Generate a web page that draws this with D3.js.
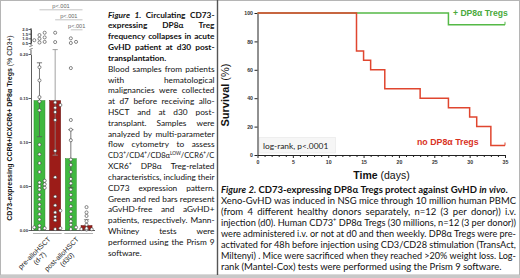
<!DOCTYPE html>
<html><head><meta charset="utf-8">
<script src="https://cdn.jsdelivr.net/npm/d3@7"></script>
<style>body{margin:0;background:#fff}svg{display:block}</style>
</head><body><svg id="c" width="520" height="278"></svg>
<script>
// ================= DATA =================
// Figure 1 – bar chart
const barKeys = ["preFree", "preGvhd", "postFree", "postGvhd"];
const barStatus = ["aGvHD-free", "aGvHD+", "aGvHD-free", "aGvHD+"];
const barGroups = ["pre-alloHSCT", "pre-alloHSCT", "post-alloHSCT", "post-alloHSCT"];
const groupNames = ["pre-alloHSCT", "post-alloHSCT"];
const groupSub = ["(d-7)", "(d30)"];
const barMeans = [0.147, 0.147, 0.081, 0.005];
const barErrHigh = [0.190, 0.205, 0.114, 0.012];
const barErrLow = [0.106, 0.085, 0.048, 0.000];
const ptsPreFree = [1.6, 1.35, 1.1, 0.95, 0.8, 0.62, 0.55, 0.185, 0.170, 0.151, 0.146, 0.136, 0.097, 0.086,
  0.076, 0.066, 0.056, 0.054, 0.052, 0.050, 0.048, 0.046, 0.040, 0.035, 0.029, 0.024, 0.018, 0.012, 0.005,
  0.003, 0.002, 0.001];
const ptsPreGvhd = [1.6, 0.6, 0.145, 0.142, 0.139, 0.134, 0.125, 0.090, 0.060, 0.038, 0.028, 0.022, 0.020,
  0.015, 0.011, 0.002, 0.001];
const ptsPostFree = [1.0, 0.62, 0.5, 0.184, 0.125, 0.114, 0.102, 0.080, 0.074, 0.066, 0.058, 0.053, 0.046,
  0.040, 0.034, 0.027, 0.021, 0.015, 0.010, 0.006, 0.003, 0.001];
const ptsPostGvhd = [0.026, 0.020, 0.016, 0.010, 0.006, 0.002, 0.001, 0.0008, 0.0005];
const barPoints = [ptsPreFree, ptsPreGvhd, ptsPostFree, ptsPostGvhd];
const lowTicks = [0, 0.05, 0.10, 0.15, 0.20];
const highTicks = [0.5, 1.0, 1.5, 2.0];
const pComparisons = [[0, 3], [1, 3], [2, 3]];
const pLabels = ["p<.001", "p<.001", "p<.001"];

// Figure 2 – Kaplan-Meier
const kmDaysTreg = [0, 27, 35];
const kmSurvTreg = [100, 91.7, 91.7];
const kmDaysNo = [0, 14, 15, 16, 18, 23, 27, 30, 31, 33, 35];
const kmSurvNo = [100, 73.3, 66.7, 60, 46.7, 40, 33.3, 26.7, 20, 6.7, 6.7];
const kmYTicks = [0, 20, 40, 60, 80, 100];
const kmXLabels = [0, 5, 10, 15, 20, 25, 30, 35];

// Texts
const fig1Lines = [
  {s: "*Figure 1.* Circulating CD73-", b: true, j: true},
  {s: "expressing DP8α Treg", b: true, j: true},
  {s: "frequency collapses in acute", b: true, j: true},
  {s: "GvHD patient at d30 post-", b: true, j: true},
  {s: "transplantation.", b: true},
  {s: "Blood samples from patients", j: true},
  {s: "with hematological", j: true},
  {s: "malignancies were collected", j: true},
  {s: "at d7 before receiving allo-", j: true},
  {s: "HSCT and at d30 post-", j: true},
  {s: "transplant. Samples were", j: true},
  {s: "analyzed by multi-parameter", j: true},
  {s: "flow cytometry to assess", j: true},
  {s: "CD3^+^/CD4^+^/CD8α^LOW^/CCR6^+^/C", j: true},
  {s: "XCR6^+^ DP8α Treg-related", j: true},
  {s: "characteristics, including their", j: true},
  {s: "CD73 expression pattern.", j: true},
  {s: "Green and red bars represent", j: true},
  {s: "aGvHD-free and aGvHD+", j: true},
  {s: "patients, respectively. Mann-", j: true},
  {s: "Whitney tests were", j: true},
  {s: "performed using the Prism 9", j: true},
  {s: "software."}
];
const fig2Lines = [
  {s: "*Figure 2.* CD73-expressing DP8α Tregs protect against GvHD *in vivo*.", b: true},
  {s: "Xeno-GvHD was induced in NSG mice through 10 million human PBMC", j: true},
  {s: "(from 4 different healthy donors separately, n=12 (3 per donor)) i.v.", j: true},
  {s: "injection (d0). Human CD73^+^ DP8α Tregs (30 millions, n=12 (3 per donor))", j: true},
  {s: "were administered i.v. or not at d0 and then weekly. DP8α Tregs were pre-", j: true},
  {s: "activated for 48h before injection using CD3/CD28 stimulation (TransAct,", j: true},
  {s: "Miltenyi) . Mice were sacrificed when they reached >20% weight loss. Log-", j: true},
  {s: "rank (Mantel-Cox) tests were performed using the Prism 9 software."}
];

// ================= DRAW =================
const svg = d3.select("#c");
const SANS = "Lato, 'Open Sans', sans-serif";
const ARIAL = "'Liberation Sans', Arial, sans-serif";

// frame
svg.append("rect").attr("x", 0.5).attr("y", 0.5).attr("width", 519).attr("height", 274.5)
  .attr("fill", "none").attr("stroke", "#b5b5b5");
svg.append("rect").attr("x", 0).attr("y", 275).attr("width", 520).attr("height", 3).attr("fill", "#c8c8c8");
svg.append("line").attr("x1", 217.5).attr("x2", 217.5).attr("y1", 0).attr("y2", 275)
  .attr("stroke", "#555").attr("stroke-width", 1.4);

// ---------- text blocks ----------
function parseLine(s) {
  const words = []; let cur = [], it = false, sup = false, buf = "";
  const flush = () => { if (buf) { cur.push({t: buf, i: it, sup: sup}); buf = ""; } };
  for (const ch of s) {
    if (ch === "*") { flush(); it = !it; }
    else if (ch === "^") { flush(); sup = !sup; }
    else if (ch === " ") { flush(); if (cur.length) words.push(cur); cur = []; }
    else buf += ch;
  }
  flush(); if (cur.length) words.push(cur);
  return words;
}
function renderBlock(g, lines, x0, width, y0, lh, fs) {
  const spaceW = fs * 0.24;
  lines.forEach((ln, i) => {
    const y = y0 + i * lh;
    const lg = g.append("g");
    const ws = parseLine(ln.s).map(w => {
      const t = lg.append("text").attr("y", y).attr("font-size", fs)
        .attr("font-weight", ln.b ? 700 : 400).attr("fill", "#111");
      let prevSup = false;
      w.forEach(seg => {
        const ts = t.append("tspan").text(seg.t);
        if (seg.i) ts.attr("font-style", "italic");
        if (seg.sup) { ts.attr("font-size", fs * 0.62); if (!prevSup) ts.attr("dy", -fs * 0.36); }
        else if (prevSup) ts.attr("dy", fs * 0.36);
        prevSup = seg.sup;
      });
      return {t, w: t.node().getComputedTextLength()};
    });
    const n = ws.length, sum = d3.sum(ws, d => d.w);
    const natural = sum + spaceW * (n - 1);
    let gap = spaceW, scale = 1;
    if (natural > width) scale = width / natural;
    else if (ln.j && n > 1) gap = (width - sum) / (n - 1);
    let x = x0;
    ws.forEach(d => { d.t.attr("x", x); x += d.w + gap; });
    if (scale < 1) lg.attr("transform", `translate(${x0},0) scale(${scale},1) translate(${-x0},0)`);
  });
}
const t1 = svg.append("g").attr("font-family", SANS);
renderBlock(t1, fig1Lines, 108, 106.5, 17.6, 10.82, 8.3);
const t2 = svg.append("g").attr("font-family", SANS);
renderBlock(t2, fig2Lines, 221, 295, 192.6, 11.1, 9.5);

// ---------- Figure 1 chart ----------
const L = svg.append("g").attr("font-family", ARIAL);
const xBar = d3.scaleBand().domain(barKeys).range([31, 95]).paddingInner(0.3).paddingOuter(0.19);
const yLow = d3.scaleLinear().domain([0, 0.20]).range([230, 54]);
const yHigh = d3.scaleLinear().domain([0.5, 2.0]).range([43, 29]);
const yv = v => v <= 0.21 ? yLow(v) : yHigh(v);
const fillOf = d3.scaleOrdinal().domain(["aGvHD-free", "aGvHD+"]).range(["#3fb83f", "#9c1c18"]);
const edgeOf = d3.scaleOrdinal().domain(["aGvHD-free", "aGvHD+"]).range(["#2a8a2a", "#5e0f0c"]);
const bw = xBar.bandwidth();

// axes
const axLow = L.append("g").attr("transform", "translate(31,0)")
  .call(d3.axisLeft(yLow).tickValues(lowTicks).tickFormat(d3.format(".2f")).tickSize(2.5).tickSizeOuter(0));
const axHigh = L.append("g").attr("transform", "translate(31,0)")
  .call(d3.axisLeft(yHigh).tickValues(highTicks).tickFormat(d3.format(".1f")).tickSize(2.5).tickSizeOuter(0));
[axLow, axHigh].forEach(a => {
  a.selectAll("text").attr("font-size", 4.2).attr("font-weight", 700).attr("fill", "#333").attr("x", -3);
  a.selectAll("line,path").attr("stroke", "#333").attr("stroke-width", 0.8);
});
L.append("line").attr("x1", 31).attr("x2", 31).attr("y1", yLow(0.20)).attr("y2", 50)
  .attr("stroke", "#333").attr("stroke-width", 0.8);
L.append("path").attr("d", "M29.5,50 q1,-1.5 1.5,-1 q0.5,0.5 1.5,-1 M29.5,47 q1,-1.5 1.5,-1 q0.5,0.5 1.5,-1")
  .attr("fill", "none").attr("stroke", "#333").attr("stroke-width", 0.7);
L.append("line").attr("x1", 31).attr("x2", 31).attr("y1", 45).attr("y2", 28)
  .attr("stroke", "#333").attr("stroke-width", 0.8);

// x axis
L.append("line").attr("x1", 31).attr("x2", 95).attr("y1", 230.5).attr("y2", 230.5)
  .attr("stroke", "#333").attr("stroke-width", 0.8);
groupNames.forEach((gname, gi) => {
  const ks = barKeys.filter((k, i) => barGroups[i] === gname);
  const x0 = xBar(ks[0]) - 1, x1 = xBar(ks[ks.length - 1]) + bw + 1;
  L.append("line").attr("x1", x0).attr("x2", x1).attr("y1", 233.5).attr("y2", 233.5)
    .attr("stroke", "#b0b0b0").attr("stroke-width", 1);
  const gc = (x0 + x1) / 2;
  const lg = L.append("g").attr("transform", `translate(${gc - gi * 3},${236}) rotate(-45)`);
  const a = lg.append("text").attr("x", 0).attr("y", 5.2).attr("text-anchor", "end")
    .attr("font-size", 7).attr("fill", "#222").text(gname);
  const w1 = a.node().getComputedTextLength();
  lg.append("text").attr("x", -w1 / 2).attr("y", 12.8).attr("text-anchor", "middle")
    .attr("font-size", 7).attr("fill", "#222").text(groupSub[gi]);
});

// bars
barKeys.forEach((k, i) => {
  L.append("rect").attr("x", xBar(k)).attr("y", yv(barMeans[i])).attr("width", bw)
    .attr("height", yLow(0) - yv(barMeans[i]))
    .attr("fill", fillOf(barStatus[i])).attr("stroke", edgeOf(barStatus[i])).attr("stroke-width", 0.5);
});
// error bars
barKeys.forEach((k, i) => {
  const cx = xBar(k) + bw / 2;
  const yh = yv(barErrHigh[i]), yl = yv(barErrLow[i]);
  const col = barStatus[i] === "aGvHD+" ? "#8a8a8a" : "#555";
  L.append("line").attr("x1", cx).attr("x2", cx).attr("y1", yh).attr("y2", yl)
    .attr("stroke", col).attr("stroke-width", 0.8);
  [yh, yl].forEach(y => L.append("line").attr("x1", cx - 2.6).attr("x2", cx + 2.6).attr("y1", y).attr("y2", y)
    .attr("stroke", col).attr("stroke-width", 0.8));
});
// points (simple beeswarm)
barKeys.forEach((k, i) => {
  const cx = xBar(k) + bw / 2;
  const placed = [];
  const offs = [0, 2.9, -2.9, 5.2, -5.2];
  barPoints[i].map(v => yv(v)).sort((a, b) => b - a).forEach(y => {
    let dx = 0;
    for (const o of offs) {
      if (!placed.some(p => Math.abs(p.y - y) < 3.1 && Math.abs(p.dx - o) < 3.1)) { dx = o; break; }
    }
    placed.push({y, dx});
  });
  placed.forEach(p => L.append("circle").attr("cx", cx + p.dx).attr("cy", p.y).attr("r", 1.55)
    .attr("fill", "#fff").attr("stroke", "#3a3a3a").attr("stroke-width", 0.6));
});
// p-value brackets
pComparisons.forEach((c, i) => {
  const xa = xBar(barKeys[c[0]]) + bw / 2, xb = xBar(barKeys[c[1]]) + bw / 2 - 4;
  const y = 9.8 + i * 10;
  L.append("line").attr("x1", xa).attr("x2", xb).attr("y1", y).attr("y2", y)
    .attr("stroke", "#b5b5b5").attr("stroke-width", 0.8);
  L.append("text").attr("x", (xa + xb) / 2).attr("y", y - 2).attr("text-anchor", "middle")
    .attr("font-size", 5.6).attr("fill", "#666").text(pLabels[i]);
});
// y label
const yl = L.append("text").attr("transform", "translate(12.3,128) rotate(-90)").attr("text-anchor", "middle")
  .attr("font-size", 7).attr("fill", "#111");
yl.append("tspan").attr("font-weight", 700).text("CD73-expressing CCR6+/CXCR6+ DP8α Tregs");
yl.append("tspan").text(" (% CD3+)");

// ---------- Figure 2 chart ----------
const K = svg.append("g").attr("font-family", ARIAL);
const kx = d3.scaleLinear().domain([0, 35]).range([257.5, 505]);
const ky = d3.scaleLinear().domain([0, 100]).range([155, 13]);

const kyAx = K.append("g").attr("transform", "translate(257.5,0)")
  .call(d3.axisLeft(ky).tickValues(kmYTicks).tickSize(3).tickSizeOuter(0));
const kxAx = K.append("g").attr("transform", "translate(0,155)")
  .call(d3.axisBottom(kx).tickValues(d3.range(0, 36)).tickSize(2).tickSizeOuter(0)
    .tickFormat(d => kmXLabels.includes(d) ? d : ""));
kxAx.selectAll(".tick").filter(d => kmXLabels.includes(d)).select("line").attr("y2", 3);
[kyAx, kxAx].forEach(a => {
  a.selectAll("line,path").attr("stroke", "#222").attr("stroke-width", 1);
  a.selectAll("text").attr("font-size", 5.2).attr("font-weight", 700).attr("fill", "#333");
});
kxAx.selectAll("text").attr("y", 5);
kyAx.selectAll("text").attr("x", -4.5);

const stepLine = d3.line().x(d => kx(d[0])).y(d => ky(d[1])).curve(d3.curveStepAfter);
const greenC = "#55b947", redC = "#e0462f";
const tregData = kmDaysTreg.map((d, i) => [d, kmSurvTreg[i]]);
const noData = kmDaysNo.map((d, i) => [d, kmSurvNo[i]]);
K.append("path").attr("d", stepLine(tregData)).attr("fill", "none").attr("stroke", greenC).attr("stroke-width", 1.5);
K.append("path").attr("d", stepLine(noData)).attr("fill", "none").attr("stroke", redC).attr("stroke-width", 1.5);
[[tregData, greenC], [noData, redC]].forEach(([dd, c]) => {
  const last = dd[dd.length - 1];
  K.append("line").attr("x1", kx(last[0])).attr("x2", kx(last[0])).attr("y1", ky(last[1]))
    .attr("y2", ky(last[1]) - 3).attr("stroke", c).attr("stroke-width", 1);
});

K.append("text").attr("x", 453).attr("y", 16.3).attr("font-size", 8.6).attr("font-weight", 700)
  .attr("fill", "#4aaa3c").text("+ DP8α Tregs");
K.append("text").attr("x", 417).attr("y", 145.3).attr("font-size", 8.8).attr("font-weight", 700)
  .attr("fill", "#d9321f").text("no DP8α Tregs");

K.append("rect").attr("x", 259.5).attr("y", 137.5).attr("width", 76).attr("height", 15.5)
  .attr("fill", "#f6f6f6").attr("stroke", "#e6e6e6").attr("stroke-width", 0.6);
K.append("text").attr("x", 263).attr("y", 149).attr("font-family", SANS).attr("font-size", 8.4)
  .attr("fill", "#222").text("log-rank, p<.0001");

const sv = K.append("text").attr("transform", "translate(229,95) rotate(-90)").attr("text-anchor", "middle")
  .attr("font-size", 11).attr("fill", "#111");
sv.append("tspan").attr("font-weight", 700).text("Survival");
sv.append("tspan").text(" (%)");
const tm = K.append("text").attr("x", 381.5).attr("y", 179).attr("text-anchor", "middle")
  .attr("font-size", 10.5).attr("fill", "#111");
tm.append("tspan").attr("font-weight", 700).text("Time");
tm.append("tspan").text(" (days)");
</script></body></html>
